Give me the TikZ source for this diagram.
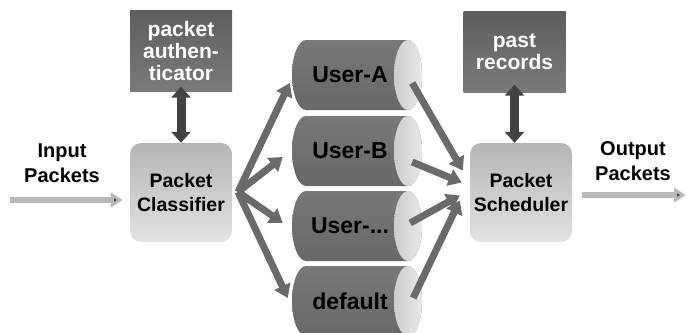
\documentclass[tikz,border=0pt]{standalone}
\usepackage{fontspec}
\setmainfont{Liberation Sans}
\usetikzlibrary{arrows.meta}
\definecolor{cyltop}{HTML}{787878}
\definecolor{cylmid}{HTML}{BBBBBB}
\definecolor{cylbot}{HTML}{686868}
\definecolor{darktop}{HTML}{5E5E5E}
\definecolor{darkbot}{HTML}{7A7A7A}
\definecolor{arrowgray}{HTML}{6A6A6A}
\begin{document}
\begin{tikzpicture}[x=1pt,y=-1pt,
  darkbox/.style={rectangle, minimum width=102pt, minimum height=81pt, inner sep=0pt,
    top color=darktop, bottom color=darkbot, text=white, align=center,
    font=\bfseries\fontsize{21}{22}\selectfont},
  procbox/.style={rectangle, rounded corners=11pt, minimum width=102pt, minimum height=99pt,
    inner sep=0pt, top color=gray!58, bottom color=gray!22, align=center,
    font=\bfseries\fontsize{19.5}{24}\selectfont},
  cyltext/.style={rectangle, minimum width=116pt, minimum height=70pt, inner sep=0pt,
    font=\bfseries\fontsize{23}{24}\selectfont},
  lbl/.style={align=center, font=\bfseries\fontsize{20}{25}\selectfont},
  fatarrow/.style={line width=7pt, draw=arrowgray, -{Triangle[length=13pt,width=17pt]}},
  dblarrow/.style={line width=9pt, draw=gray!52!black,
    {Triangle[length=11pt,width=19pt]}-{Triangle[length=11pt,width=19pt]}},
  flowarrow/.style={line width=6pt, draw=gray!55, -{Triangle[length=12pt,width=14pt,fill=gray!45!black]}}
]
\useasboundingbox (0,0) rectangle (687,332);

\newcommand\drawcyl[3]{%
  \shade[top color=cyltop, middle color=cylmid, bottom color=cylbot]
    (306,#2-35) -- (408,#2-35)
    arc[start angle=-90, end angle=90, x radius=14, y radius=35]
    -- (306,#2+35)
    arc[start angle=90, end angle=270, x radius=14, y radius=35] -- cycle;
  \shade[left color=gray!40, right color=gray!18] (408,#2) ellipse[x radius=14, y radius=35];
  \node[cyltext] (#1) at (350,#2) {#3};
}

% boxes
\node[darkbox] (auth) at (181,51) {packet\\authen-\\ticator};
\node[darkbox] (rec) at (514.5,52) {past\\records};
\node[procbox] (clf) at (181,192.5) {Packet\\Classifier};
\node[procbox] (sch) at (521,192.5) {Packet\\Scheduler};

% queues
\drawcyl{cA}{75}{User-A}
\drawcyl{cB}{151}{User-B}
\drawcyl{cC}{226}{User-...}
\drawcyl{cD}{301}{default}

% labels
\node[lbl] (inlbl) at (62,163) {Input\\Packets};
\node[lbl] (outlbl) at (633,161) {Output\\Packets};

% coordinates
\coordinate (hub) at (238,192);
\coordinate (inS) at (10,200);
\coordinate (outE) at (686,195);

% vertical double arrows
\draw[dblarrow] ([yshift=5]auth.south) -- (clf.north);
\draw[dblarrow] ([yshift=8]rec.south) -- (rec.south |- sch.north);

% input / output
\draw[flowarrow] (inS) -- ([xshift=-7]clf.west |- inS);
\draw[flowarrow] ([xshift=10]sch.east |- outE) -- (outE);

% classifier to queues
\draw[fatarrow] (hub) -- ([shift={(-2,8)}]cA.west);
\draw[fatarrow] (hub) -- ([shift={(-9,6)}]cB.west);
\draw[fatarrow] (hub) -- ([shift={(-9,-3)}]cC.west);
\draw[fatarrow] (hub) -- ([shift={(-4,-3)}]cD.west);

% queues to scheduler
\draw[fatarrow] ([shift={(4,8)}]cA.east) -- ([shift={(-7,-22)}]sch.west);
\draw[fatarrow] ([shift={(4,11)}]cB.east) -- ([shift={(-8,-10)}]sch.west);
\draw[fatarrow] ([shift={(2,-3)}]cC.east) -- ([shift={(-10,3)}]sch.west);
\draw[fatarrow] ([shift={(5,-3)}]cD.east) -- ([shift={(-10,8)}]sch.west);
\end{tikzpicture}
\end{document}
